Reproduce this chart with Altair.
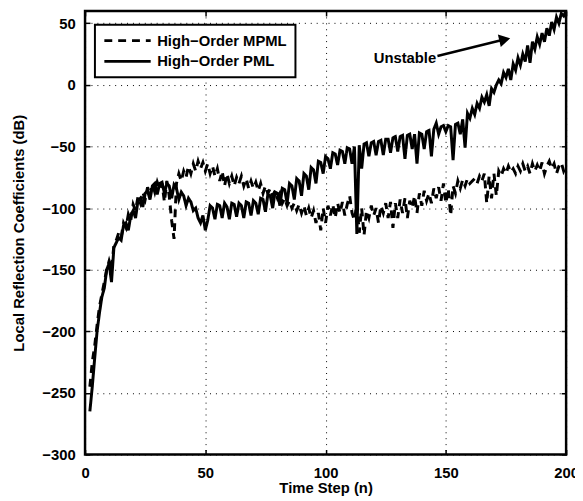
import altair as alt
import pandas as pd

FONT = "Liberation Sans"

series_names = ["High\u2212Order MPML", "High\u2212Order PML"]
steps = list(range(2, 201))

pml = [
    -265, -245, -222, -200, -185, -172, -165, -150, -145, -160,
    -132, -128, -124, -126, -114, -112, -118, -106, -102, -108,
    -94, -92, -99, -88, -86, -93, -82, -80, -89, -80,
    -79, -88, -80, -82, -92, -81, -84, -93, -87, -90,
    -98, -92, -95, -102, -100, -108, -112, -106, -118, -110,
    -98, -100, -109, -97, -98, -108, -96, -99, -109, -96,
    -97, -107, -96, -98, -108, -95, -96, -106, -94, -96,
    -105, -92, -93, -103, -89, -90, -100, -87, -88, -98,
    -84, -85, -96, -80, -82, -93, -76, -78, -90, -72,
    -74, -85, -67, -69, -80, -62, -63, -72, -58, -60,
    -68, -55, -56, -65, -53, -54, -64, -51, -52, -64,
    -50, -121, -49, -68, -48, -47, -58, -47, -46, -57,
    -46, -45, -57, -44, -44, -55, -43, -42, -54, -42,
    -41, -60, -41, -40, -52, -40, -64, -39, -40, -52,
    -38, -37, -58, -36, -31, -40, -34, -33, -38, -33,
    -34, -61, -32, -31, -40, -28, -51, -23, -27, -19,
    -24, -15, -19, -10, -14, -8, -17, -3, -6, 0,
    4, 1, 10, 6, 13, 4, 17, 12, 22, 16,
    25, 19, 32, 18, 35, 29, 39, 33, 42, 35,
    46, 40, 51, 45, 55, 50, 58, 56, 60,
]

mpml = [
    -245, -225, -212, -195, -180, -170, -160, -150, -143, -150,
    -130, -126, -120, -124, -112, -116, -105, -110, -97, -102,
    -91, -96, -87, -93, -83, -90, -80, -87, -79, -85,
    -80, -95, -78, -90, -110, -125, -80, -72, -78, -70,
    -75, -66, -72, -64, -70, -62, -68, -63, -70, -64,
    -72, -66, -74, -68, -78, -70, -82, -72, -80, -74,
    -82, -75, -80, -74, -82, -76, -84, -78, -84, -79,
    -86, -80, -88, -82, -88, -84, -90, -86, -92, -88,
    -96, -92, -98, -94, -100, -96, -102, -97, -104, -98,
    -106, -100, -108, -102, -112, -104, -118, -100, -112, -98,
    -106, -97, -108, -96, -104, -95, -106, -97, -90, -104,
    -110, -96, -120, -100, -122, -102, -108, -98, -106, -100,
    -112, -98, -104, -96, -108, -95, -116, -96, -108, -93,
    -104, -92, -108, -94, -100, -90, -104, -88, -98, -86,
    -94, -88, -96, -84, -92, -83, -94, -80, -96, -84,
    -106, -82, -88, -78, -84, -77, -82, -76, -80, -78,
    -76, -80, -74, -78, -72, -96, -74, -92, -72, -90,
    -70, -74, -68, -72, -66, -71, -68, -72, -66, -70,
    -64, -70, -66, -72, -64, -70, -65, -70, -63, -72,
    -66, -62, -68, -64, -72, -66, -63, -70, -66,
]

x_ticks = [0, 50, 100, 150, 200]
y_ticks = [-300, -250, -200, -150, -100, -50, 0, 50]

# annotation
note_text = ["Unstable"]
note_x = [146]
note_y = [21.5]
arrow_x = [146.5]
arrow_y = [23.5]
arrow_x2 = [173.0]
arrow_y2 = [36.3]
head_x = [174.5]
head_y = [36.8]

df = pd.DataFrame({
    "n": steps + steps,
    "v": mpml + pml,
    "s": [series_names[0]] * len(steps) + [series_names[1]] * len(steps),
})
note_df = pd.DataFrame({"n": note_x, "v": note_y, "t": note_text})
arrow_df = pd.DataFrame({"n": arrow_x, "v": arrow_y, "n2": arrow_x2, "v2": arrow_y2})
head_df = pd.DataFrame({"n": head_x, "v": head_y})

x_scale = alt.Scale(domain=[0, 200], nice=False, zero=False)
y_scale = alt.Scale(domain=[-300, 60], nice=False, zero=False)

common_axis = dict(
    offset=-5, tickSize=5, tickWidth=1.5, tickColor="black", domain=False,
    labelFont=FONT, labelFontSize=15, labelFontWeight="bold", labelColor="black",
    titleFont=FONT, titleFontSize=15, titleFontWeight="bold", titleColor="black",
)

x_axis = alt.Axis(
    values=x_ticks, title="Time Step (n)", orient="bottom", grid=True,
    gridColor="black", gridDash=[1, 5], gridWidth=1, gridOpacity=1,
    labelPadding=11, labelFlush=False, titleY=31, **common_axis,
)
y_axis = alt.Axis(
    values=y_ticks, title="Local Reflection Coefficients (dB)", orient="left", grid=True,
    gridColor="black", gridDash=[1, 5], gridWidth=1, gridOpacity=1,
    labelPadding=10, labelFlush=False, titlePadding=16, **common_axis,
)
x_axis_top = alt.Axis(values=x_ticks, title=None, orient="top", labels=False, grid=False,
                      offset=-5, tickSize=5, tickWidth=1.5, tickColor="black", domain=False)
y_axis_right = alt.Axis(values=y_ticks, title=None, orient="right", labels=False, grid=False,
                        offset=-5, tickSize=5, tickWidth=1.5, tickColor="black", domain=False)

legend = alt.Legend(
    title=None, orient="none", legendX=10, legendY=14,
    symbolType="stroke", symbolSize=2200, symbolStrokeWidth=3, symbolStrokeColor="black",
    labelFont=FONT, labelFontSize=15, labelFontWeight="bold", labelColor="black",
    labelLimit=400, labelOffset=5, rowPadding=5, padding=8, clipHeight=16,
    strokeColor="black", fillColor="white",
)

lines = alt.Chart(df).mark_line(color="black", strokeWidth=3, clip=True).encode(
    x=alt.X("n:Q", scale=x_scale, axis=x_axis),
    y=alt.Y("v:Q", scale=y_scale, axis=y_axis),
    strokeDash=alt.StrokeDash(
        "s:N",
        scale=alt.Scale(domain=series_names, range=[[8, 6], [1, 0]]),
        sort=series_names,
        legend=legend,
    ),
)

ticks_layer = alt.Chart(df).mark_line(opacity=0).encode(
    x=alt.X("n:Q", scale=x_scale, axis=x_axis_top),
    y=alt.Y("v:Q", scale=y_scale, axis=y_axis_right),
    detail="s:N",
)

note = alt.Chart(note_df).mark_text(
    align="right", baseline="middle", font=FONT, fontSize=15, fontWeight="bold", color="black"
).encode(
    x=alt.X("n:Q", scale=x_scale, axis=None),
    y=alt.Y("v:Q", scale=y_scale, axis=None),
    text="t:N",
)

arrow = alt.Chart(arrow_df).mark_rule(color="black", strokeWidth=2.5).encode(
    x=alt.X("n:Q", scale=x_scale, axis=None),
    y=alt.Y("v:Q", scale=y_scale, axis=None),
    x2="n2:Q",
    y2="v2:Q",
)

head = alt.Chart(head_df).mark_point(
    shape="triangle-right", filled=True, color="black", size=170, angle=347, opacity=1
).encode(
    x=alt.X("n:Q", scale=x_scale, axis=None),
    y=alt.Y("v:Q", scale=y_scale, axis=None),
)

chart = alt.layer(lines, ticks_layer, note, arrow, head).resolve_axis(
    x="independent", y="independent"
).properties(
    width=487, height=449,
    autosize=alt.AutoSizeParams(type="none"),
    padding={"left": 78, "top": 0, "right": 9, "bottom": 40},
    background="white",
).configure_view(
    stroke="black", strokeWidth=2.5
).configure_legend(
    strokeWidth=2
)

chart.save("out.html", embed_options={"renderer": "svg", "actions": False})
